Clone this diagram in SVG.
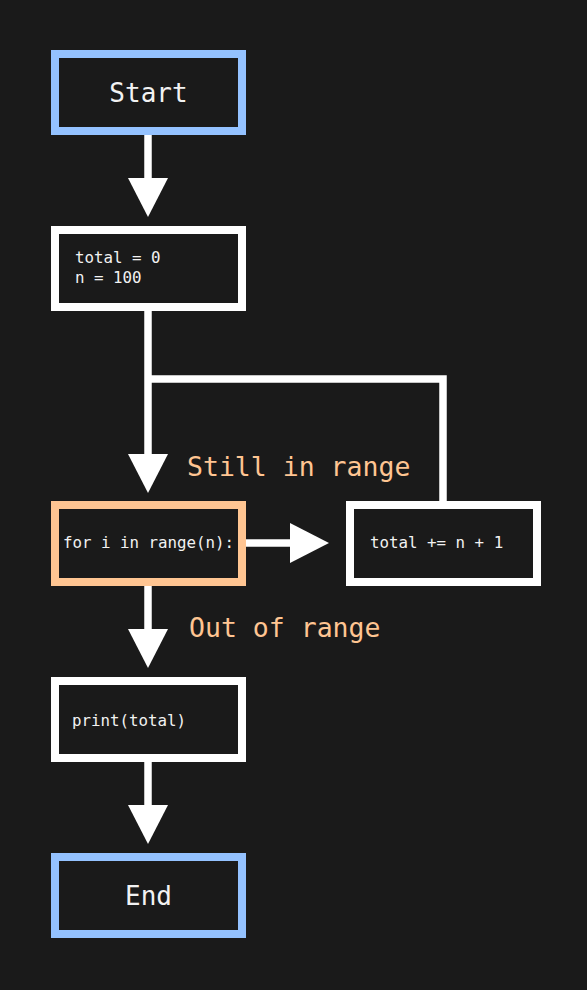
<svg xmlns="http://www.w3.org/2000/svg" width="587" height="990" viewBox="0 0 587 990">
<style>
.term{fill:#1a1a1a;stroke:#94c2ff;stroke-width:8}
.proc{fill:#1a1a1a;stroke:#ffffff;stroke-width:8}
.dec{fill:#1a1a1a;stroke:#ffc592;stroke-width:8}
.big{font-family:"DejaVu Sans Mono","Liberation Mono",monospace;font-size:26px;fill:#f2f2f2}
.code{font-family:"DejaVu Sans Mono","Liberation Mono",monospace;font-size:15.8px;fill:#f2f2f2}
.lbl{font-family:"DejaVu Sans Mono","Liberation Mono",monospace;font-size:26.5px;fill:#ffc592}
.edge{fill:none;stroke:#ffffff;stroke-width:7.5}
</style>
<defs>
<marker id="ah" markerUnits="userSpaceOnUse" markerWidth="39" markerHeight="40" viewBox="0 0 39 40" refX="0" refY="20" orient="auto">
<path d="M0,0 L39,20 L0,40 Z" fill="#ffffff"/>
</marker>
</defs>
<rect width="587" height="990" fill="#1a1a1a"/>
<g id="connectors">
<line class="edge" x1="148" y1="135" x2="148" y2="178" marker-end="url(#ah)"/>
<line class="edge" x1="148" y1="311" x2="148" y2="454" marker-end="url(#ah)"/>
<path class="edge" d="M443,501 V379 H148"/>
<line class="edge" x1="246" y1="543" x2="290" y2="543" marker-end="url(#ah)"/>
<line class="edge" x1="148" y1="586" x2="148" y2="629" marker-end="url(#ah)"/>
<line class="edge" x1="148" y1="762" x2="148" y2="805" marker-end="url(#ah)"/>
<text class="lbl" x="187" y="476">Still in range</text>
<text class="lbl" x="189" y="637">Out of range</text>
</g>
<g id="start">
<rect class="term" x="55" y="54" width="187" height="77"/>
<text class="big" x="148.5" y="102" text-anchor="middle">Start</text>
</g>
<g id="init">
<rect class="proc" x="55" y="230" width="187" height="77"/>
<text class="code" x="75" y="263">total = 0</text>
<text class="code" x="75" y="283">n = 100</text>
</g>
<g id="loop">
<rect class="dec" x="55" y="505" width="187" height="77"/>
<text class="code" x="148.5" y="548" text-anchor="middle">for i in range(n):</text>
</g>
<g id="body">
<rect class="proc" x="350" y="505" width="187" height="77"/>
<text class="code" x="370" y="548">total += n + 1</text>
</g>
<g id="print">
<rect class="proc" x="55" y="681" width="187" height="77"/>
<text class="code" x="72" y="726">print(total)</text>
</g>
<g id="end">
<rect class="term" x="55" y="857" width="187" height="77"/>
<text class="big" x="148.5" y="905" text-anchor="middle">End</text>
</g>
</svg>
